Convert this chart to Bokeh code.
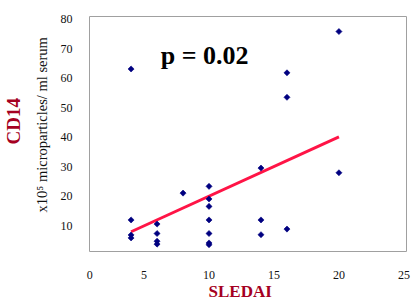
import math
from bokeh.plotting import figure
from bokeh.models import Range1d, FixedTicker, Label, ColumnDataSource, Title
from bokeh.embed import file_html
from bokeh.resources import INLINE

# ---- data ----
sledai = [4, 4, 4, 4,
          6, 6, 6, 6,
          8,
          10, 10, 10, 10, 10, 10, 10,
          14, 14, 14,
          16, 16, 16,
          20, 20]
cd14 = [63.2, 12.0, 6.9, 5.9,
        10.6, 7.4, 4.8, 3.8,
        21.1,
        23.4, 19.1, 16.6, 12.0, 7.4, 4.2, 3.6,
        29.6, 12.0, 7.0,
        61.9, 53.6, 8.9,
        75.9, 28.0]
trend_x = [4, 20]
trend_y = [8.0, 40.2]
x_ticks = [0, 5, 10, 15, 20, 25]
y_ticks = [10, 20, 30, 40, 50, 60, 70, 80]
p_text = "p = 0.02"
x_title = "SLEDAI"
y_title = "CD14"
y_sub = "x10\u2075 microparticles/ ml serum"

FONT = "Liberation Serif"
DARK_RED = "#a50021"
X_START = 0.8

p = figure(width=411, height=302,
           x_range=Range1d(X_START, 25.2), y_range=Range1d(1.3, 81.0),
           output_backend="svg", toolbar_location=None,
           min_border_left=89, min_border_right=5,
           min_border_top=16, min_border_bottom=51)

p.xgrid.visible = False
p.ygrid.visible = False
p.outline_line_color = "#a0a0a0"
p.outline_line_width = 1
p.background_fill_color = "white"
p.border_fill_color = "white"

for ax in (p.xaxis[0], p.yaxis[0]):
    ax.axis_line_color = None
    ax.major_tick_line_color = None
    ax.minor_tick_line_color = None
    ax.major_tick_out = 0
    ax.major_tick_in = 0
    ax.major_label_text_font = FONT
    ax.major_label_text_font_size = "12px"
    ax.major_label_text_color = "#111111"

# the "0" tick label sits at the frame's left edge (axis starts just above 0)
zero_pos = X_START + 0.02
xt = [zero_pos] + [t for t in x_ticks if t > X_START]
p.xaxis[0].ticker = FixedTicker(ticks=xt)
p.xaxis[0].major_label_overrides = {zero_pos: str(x_ticks[0])}
p.yaxis[0].ticker = FixedTicker(ticks=y_ticks)
p.xaxis[0].major_label_standoff = 19
p.yaxis[0].major_label_standoff = 17

# trend line
p.line(trend_x, trend_y, line_color="#ff1446", line_width=3)

# points (small navy diamonds)
src = ColumnDataSource(dict(x=sledai, y=cd14))
p.scatter("x", "y", source=src, marker="square", angle=math.pi / 4, size=4.3,
          fill_color="#000080", line_color="#000080", line_width=0.6)

# p value
p.add_layout(Label(x=6.28, y=67.7, text=p_text, text_font=FONT,
                   text_font_size="26px", text_font_style="bold",
                   text_color="black", text_align="left",
                   text_baseline="alphabetic"))

# axis titles
p.add_layout(Title(text=y_sub, align="left", offset=39, standoff=16,
                   text_font=FONT, text_font_size="14.5px",
                   text_font_style="normal", text_color="#111111"), "left")
p.add_layout(Title(text=y_title, align="left", offset=107, standoff=0,
                   text_font=FONT, text_font_size="19px",
                   text_font_style="bold", text_color=DARK_RED), "left")
p.add_layout(Title(text=x_title, align="left", offset=119, standoff=-3,
                   text_font=FONT, text_font_size="17px",
                   text_font_style="bold", text_color=DARK_RED), "below")

open("out.html", "w").write(file_html(p, INLINE))
